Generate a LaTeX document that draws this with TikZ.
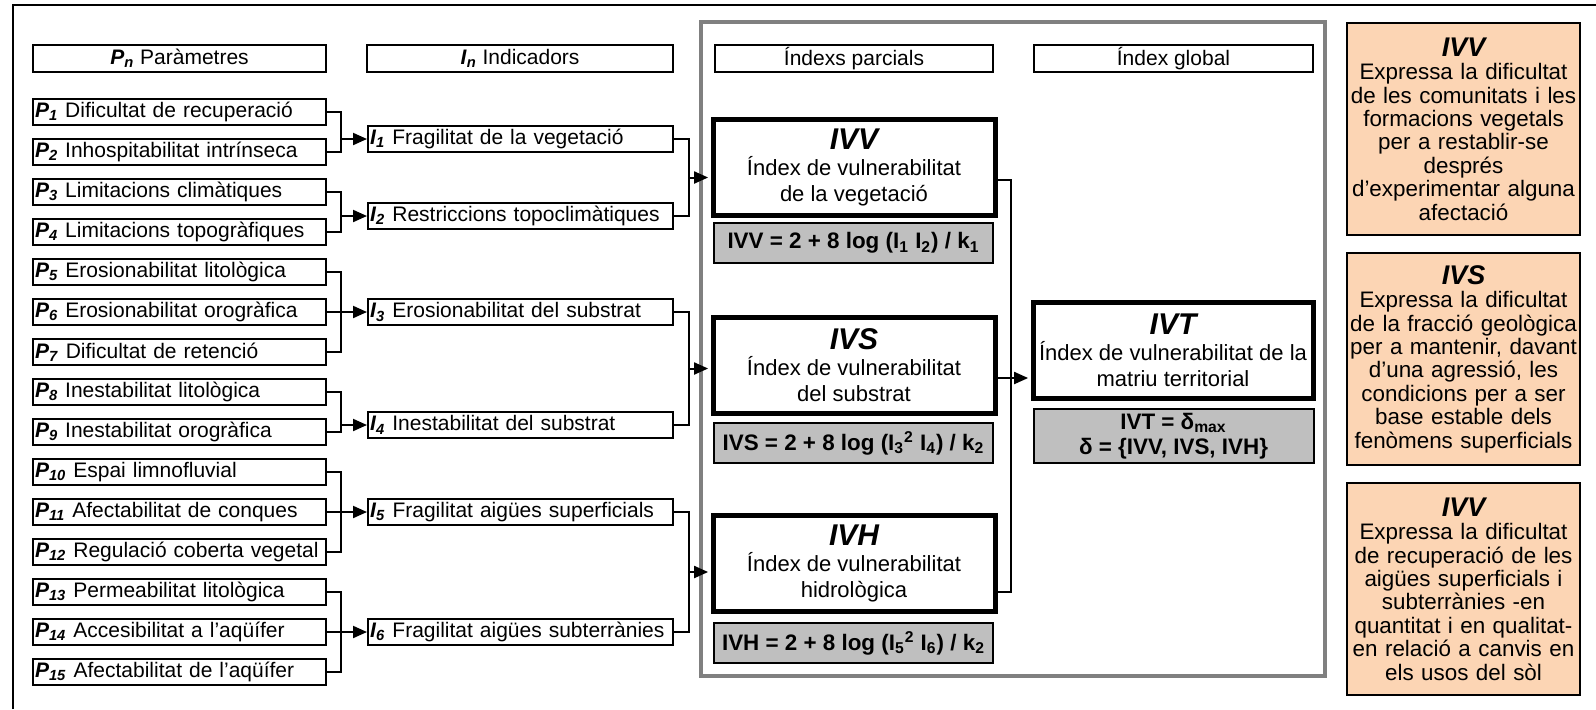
\documentclass[tikz,border=0pt]{standalone}
\usepackage{fontspec}
\setmainfont{Liberation Sans}
\usepackage{xcolor}
\usepackage{tikz}
\usetikzlibrary{arrows.meta,calc}

\definecolor{notefill}{RGB}{252,213,180}
\newcommand{\pname}[1]{\textbf{\textit{P}}\textsubscript{\textbf{\textit{#1}}}}
\newcommand{\iname}[1]{\textbf{\textit{I}}\textsubscript{\textbf{\textit{#1}}}}
\newcommand{\ttl}[1]{{\fontsize{15}{16}\selectfont\bfseries\itshape #1}}
\newcommand{\ntl}[1]{{\fontsize{13.5}{14}\selectfont\bfseries\itshape #1}}

\begin{document}
\begin{tikzpicture}[x=0.5pt,y=-0.5pt,
    every node/.style={font=\fontsize{10.5}{12.5}\selectfont},
    head/.style={draw,line width=1pt,minimum height=13.5pt,inner sep=0pt},
    pbox/.style={draw,line width=1pt,text width=144.5pt,inner xsep=1pt,inner ysep=0pt,minimum height=13pt,align=left},
    ibox/.style={draw,line width=1pt,text width=150.5pt,inner xsep=1pt,inner ysep=0pt,minimum height=13pt,align=left},
    index/.style={draw,line width=2.5pt,fill=white,minimum width=141pt,minimum height=48pt,inner sep=0pt,align=center,font=\fontsize{11}{13}\selectfont},
    formula/.style={draw,line width=1pt,fill=black!25,minimum width=139.5pt,minimum height=20pt,inner sep=0pt,align=center,font=\fontsize{11.2}{12.5}\selectfont\bfseries},
    note/.style={draw,line width=1pt,fill=notefill,text width=115pt,minimum height=106pt,inner xsep=0.75pt,inner ysep=0pt,align=center,font=\fontsize{11.2}{11.7}\selectfont},
    link/.style={line width=1pt},
    arr/.style={link,-{Triangle[length=7pt,width=6pt]}}
  ]
    \useasboundingbox (0,0) rectangle (1596,709);

    % Frames
    \draw[line width=1pt] (13,709) -- (13,5) -- (1596,5);
    \draw[line width=2pt,black!50] (701,22) rectangle (1325,676);

    % Column headers
    \node[head,minimum width=146.5pt] (hp) at (179.5,58.5) {\pname{n} Paràmetres};
    \node[head,minimum width=153pt] (hi) at (520,58.5) {\iname{n} Indicadors};
    \node[head,minimum width=139pt] (hpar) at (854,58.5) {Índexs parcials};
    \node[head,minimum width=139.5pt] (hglob) at (1173.5,58.5) {Índex global};

    % Parameters
    \node[pbox] (p1) at (179.5,112) {\pname{1} Dificultat de recuperació};
    \node[pbox] (p2) at (179.5,152) {\pname{2} Inhospitabilitat intrínseca};
    \node[pbox] (p3) at (179.5,192) {\pname{3} Limitacions climàtiques};
    \node[pbox] (p4) at (179.5,232) {\pname{4} Limitacions topogràfiques};
    \node[pbox] (p5) at (179.5,272) {\pname{5} Erosionabilitat litològica};
    \node[pbox] (p6) at (179.5,312) {\pname{6} Erosionabilitat orogràfica};
    \node[pbox] (p7) at (179.5,352) {\pname{7} Dificultat de retenció};
    \node[pbox] (p8) at (179.5,392) {\pname{8} Inestabilitat litològica};
    \node[pbox] (p9) at (179.5,432) {\pname{9} Inestabilitat orogràfica};
    \node[pbox] (p10) at (179.5,472) {\pname{10} Espai limnofluvial};
    \node[pbox] (p11) at (179.5,512) {\pname{11} Afectabilitat de conques};
    \node[pbox] (p12) at (179.5,552) {\pname{12} Regulació coberta vegetal};
    \node[pbox] (p13) at (179.5,592) {\pname{13} Permeabilitat litològica};
    \node[pbox] (p14) at (179.5,632) {\pname{14} Accesibilitat a l’aqüífer};
    \node[pbox] (p15) at (179.5,672) {\pname{15} Afectabilitat de l’aqüífer};

    % Indicators
    \node[ibox] (i1) at (520.5,139) {\iname{1} Fragilitat de la vegetació};
    \node[ibox] (i2) at (520.5,216) {\iname{2} Restriccions topoclimàtiques};
    \node[ibox] (i3) at (520.5,312) {\iname{3} Erosionabilitat del substrat};
    \node[ibox] (i4) at (520.5,425) {\iname{4} Inestabilitat del substrat};
    \node[ibox] (i5) at (520.5,512) {\iname{5} Fragilitat aigües superficials};
    \node[ibox] (i6) at (520.5,632) {\iname{6} Fragilitat aigües subterrànies};

    % Partial indexes
    \node[index] (ivv) at (854,167.5) {\ttl{IVV}\\Índex de vulnerabilitat\\de la vegetació};
    \node[index] (ivs) at (854,365) {\ttl{IVS}\\Índex de vulnerabilitat\\del substrat};
    \node[index] (ivh) at (854,563) {\ttl{IVH}\\Índex de vulnerabilitat\\hidrològica};
    \node[formula] (fvv) at (853.5,243) {IVV = 2 + 8 log (I\textsubscript{1} I\textsubscript{2}) / k\textsubscript{1}};
    \node[formula] (fvs) at (853.5,443) {IVS = 2 + 8 log (I\textsubscript{3}\textsuperscript{2} I\textsubscript{4}) / k\textsubscript{2}};
    \node[formula] (fvh) at (853.5,643) {IVH = 2 + 8 log (I\textsubscript{5}\textsuperscript{2} I\textsubscript{6}) / k\textsubscript{2}};

    % Global index
    \node[index,minimum width=140pt] (ivt) at (1173,350) {\ttl{IVT}\\Índex de vulnerabilitat de la\\matriu territorial};
    \node[formula,minimum width=140pt,minimum height=27pt] (fvt) at (1173.5,436) {IVT = δ\textsubscript{max}\\δ = \{IVV, IVS, IVH\}};

    % Notes
    \node[note] (nvv) at (1463.5,129) {\ntl{IVV}\\Expressa la dificultat\\de les comunitats i les\\formacions vegetals\\per a restablir-se\\després\\d’experimentar alguna\\afectació};
    \node[note] (nvs) at (1463.5,359) {\ntl{IVS}\\Expressa la dificultat\\de la fracció geològica\\per a mantenir, davant\\d’una agressió, les\\condicions per a ser\\base estable dels\\fenòmens superficials};
    \node[note] (nvh) at (1463.5,589) {\ntl{IVV}\\Expressa la dificultat\\de recuperació de les\\aigües superficials i\\subterrànies -en\\quantitat i en qualitat-\\en relació a canvis en\\els usos del sòl};

    % Parameters to indicators
    \draw[link] (p1.east) -- ++(14,0) coordinate (b1) |- (p2.east);
    \draw[arr] (b1 |- i1.west) -- (i1.west);
    \draw[link] (p3.east) -- ++(14,0) coordinate (b2) |- (p4.east);
    \draw[arr] (b2 |- i2.west) -- (i2.west);
    \draw[link] (p5.east) -- ++(14,0) coordinate (b3) |- (p7.east);
    \draw[link] (p6.east) -- (b3 |- p6.east);
    \draw[arr] (b3 |- i3.west) -- (i3.west);
    \draw[link] (p8.east) -- ++(14,0) coordinate (b4) |- (p9.east);
    \draw[arr] (b4 |- i4.west) -- (i4.west);
    \draw[link] (p10.east) -- ++(14,0) coordinate (b5) |- (p12.east);
    \draw[link] (p11.east) -- (b5 |- p11.east);
    \draw[arr] (b5 |- i5.west) -- (i5.west);
    \draw[link] (p13.east) -- ++(14,0) coordinate (b6) |- (p15.east);
    \draw[link] (p14.east) -- (b6 |- p14.east);
    \draw[arr] (b6 |- i6.west) -- (i6.west);

    % Indicators to partial indexes
    \draw[link] (i1.east) -- ++(15,0) coordinate (c1) |- (i2.east);
    \coordinate (m1) at ($(i1.east)!0.5!(i2.east)$);
    \draw[arr,shorten >=1.2pt] (c1 |- m1) -- (ivv.west |- m1);
    \draw[link] (i3.east) -- ++(15,0) coordinate (c2) |- (i4.east);
    \coordinate (m2) at ($(i3.east)!0.5!(i4.east)$);
    \draw[arr,shorten >=1.2pt] (c2 |- m2) -- (ivs.west |- m2);
    \draw[link] (i5.east) -- ++(15,0) coordinate (c3) |- (i6.east);
    \coordinate (m3) at ($(i5.east)!0.5!(i6.east)$);
    \draw[arr,shorten >=1.2pt] (c3 |- m3) -- (ivh.west |- m3);

    % Partial indexes to global index
    \coordinate (o1) at ($(ivv.east)+(0,12)$);
    \coordinate (o2) at ($(ivs.east)+(0,13)$);
    \coordinate (o3) at ($(ivh.east)+(0,29)$);
    \draw[link] (o1) -- ++(13,0) coordinate (d1) |- (o3);
    \draw[link] (o2) -- (d1 |- o2);
    \draw[arr,shorten >=1.2pt] (d1 |- o2) -- (ivt.west |- o2);
\end{tikzpicture}
\end{document}
